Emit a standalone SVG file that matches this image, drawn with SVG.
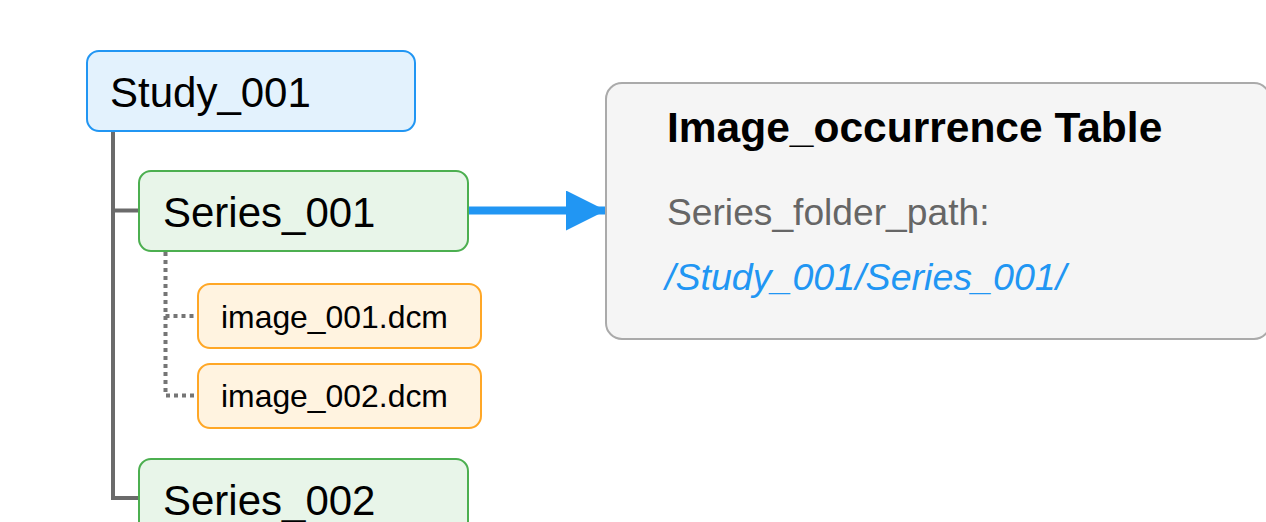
<svg xmlns="http://www.w3.org/2000/svg" width="1266" height="522" viewBox="0 0 1266 522">
  <style>
    text { font-family: "Liberation Sans", Arial, sans-serif; }
    .study { fill: #E3F2FD; stroke: #2196F3; stroke-width: 2; }
    .series { fill: #E8F5E9; stroke: #4CAF50; stroke-width: 2; }
    .image { fill: #FFF3E0; stroke: #FFA726; stroke-width: 2; }
    .table { fill: #F5F5F5; stroke: #AAAAAA; stroke-width: 2; }
    .big { font-size: 42px; fill: #000; }
    .file { font-size: 31.9px; fill: #000; }
    .tree { fill: none; stroke: #6B6B6B; stroke-width: 4; }
    .dots { fill: none; stroke: #757575; stroke-width: 4; stroke-dasharray: 4 4; }
    .link { stroke: #2196F3; stroke-width: 8; }
  </style>
  <defs>
    <marker id="arrowhead" markerUnits="userSpaceOnUse" markerWidth="40" markerHeight="40" refX="40" refY="20" orient="auto">
      <path d="M0,0 L40,20 L0,40 Z" fill="#2196F3"/>
    </marker>
  </defs>
  <rect width="1266" height="522" fill="#FFFFFF"/>

  <!-- connectors -->
  <g id="connectors">
    <path class="tree" d="M113,132 V498 H139"/>
    <path class="tree" d="M113,210.5 H139"/>
    <path class="dots" d="M165.5,252 V395.5 H198"/>
    <path class="dots" d="M165.5,316 H198"/>
    <line class="link" x1="469" y1="210.5" x2="606" y2="210.5" marker-end="url(#arrowhead)"/>
  </g>

  <g id="study_001">
    <rect class="study" x="87" y="51" width="328" height="80" rx="12"/>
    <text class="big" x="110" y="107">Study_001</text>
  </g>

  <g id="series_001">
    <rect class="series" x="139" y="171" width="329" height="80" rx="12"/>
    <text class="big" x="163" y="227">Series_001</text>
  </g>

  <g id="image_001">
    <rect class="image" x="198" y="284" width="283" height="64" rx="12"/>
    <text class="file" x="221" y="328">image_001.dcm</text>
  </g>

  <g id="image_002">
    <rect class="image" x="198" y="364" width="283" height="64" rx="12"/>
    <text class="file" x="221" y="407">image_002.dcm</text>
  </g>

  <g id="series_002">
    <rect class="series" x="139" y="459" width="329" height="80" rx="12"/>
    <text class="big" x="163" y="515">Series_002</text>
  </g>

  <g id="image_occurrence_table">
    <rect class="table" x="606" y="83" width="664" height="256" rx="16"/>
    <text x="667" y="142" font-size="42.5" font-weight="bold" fill="#000">Image_occurrence Table</text>
    <text x="667" y="225" font-size="37.2" fill="#666666">Series_folder_path:</text>
    <text x="665" y="290" font-size="37.6" font-style="italic" fill="#2196F3">/Study_001/Series_001/</text>
  </g>
</svg>
